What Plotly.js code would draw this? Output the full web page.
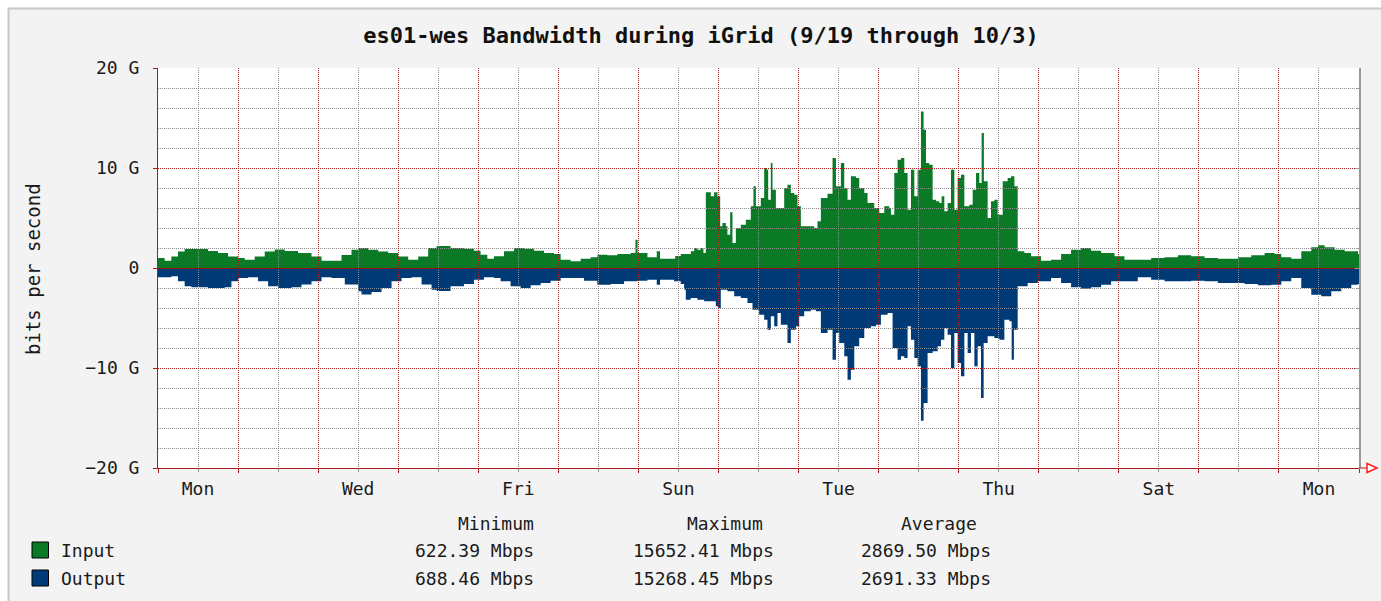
<!DOCTYPE html>
<html>
<head>
<meta charset="utf-8">
<script src="https://cdn.plot.ly/plotly-3.0.1.min.js"></script>
<style>
  html, body { margin: 0; padding: 0; background: #ffffff; }
  #chart { width: 1381px; height: 601px; }
</style>
</head>
<body>
<div id="chart"></div>
<script>
// ---------------- DATA (days since Mon 9/19, Gbps) ----------------
const dayLabels = ['Mon', 'Wed', 'Fri', 'Sun', 'Tue', 'Thu', 'Sat', 'Mon'];
const dayLabelPos = [0.5, 2.5, 4.5, 6.5, 8.5, 10.5, 12.5, 14.5];

const yTickVals = [-20, -10, 0, 10, 20];
const yTickText = ['\u221220 G', '\u221210 G', '0', '10 G', '20 G'];

const seriesNames = ['Input', 'Output'];
const statHeaders = ['Minimum', 'Maximum', 'Average'];
const inputStats = ['622.39 Mbps', '15652.41 Mbps', '2869.50 Mbps'];
const outputStats = ['688.46 Mbps', '15268.45 Mbps', '2691.33 Mbps'];

const inDay = [0, 0.083, 0.167, 0.25, 0.333, 0.5, 0.625, 0.75, 0.875, 1.0, 1.083, 1.208, 1.333, 1.458, 1.583, 1.75, 1.917,
  2.042, 2.167, 2.292, 2.417, 2.5, 2.625, 2.75, 2.875, 3.0, 3.125, 3.25, 3.375, 3.479, 3.654, 3.821, 3.946, 4.029, 4.113,
  4.196, 4.321, 4.446, 4.571, 4.696, 4.821, 4.946, 5.029, 5.154, 5.279, 5.404, 5.488, 5.613, 5.738, 5.904, 5.963, 5.99,
  6.113, 6.229, 6.27, 6.404, 6.46, 6.529, 6.654, 6.696, 6.737, 6.779, 6.812, 6.842, 6.904, 6.946, 6.987, 7.021, 7.05,
  7.092, 7.112, 7.146, 7.175, 7.217, 7.279, 7.342, 7.404, 7.437, 7.467, 7.529, 7.571, 7.604, 7.621, 7.654, 7.675, 7.717,
  7.779, 7.821, 7.862, 7.904, 7.946, 7.987, 8.029, 8.112, 8.196, 8.237, 8.279, 8.362, 8.425, 8.467, 8.529, 8.571, 8.612,
  8.654, 8.717, 8.758, 8.821, 8.862, 8.946, 9.008, 9.071, 9.133, 9.154, 9.196, 9.237, 9.279, 9.321, 9.362, 9.404, 9.446,
  9.487, 9.529, 9.562, 9.592, 9.633, 9.675, 9.717, 9.758, 9.787, 9.821, 9.862, 9.904, 9.946, 9.987, 10.029, 10.071,
  10.133, 10.175, 10.217, 10.258, 10.287, 10.315, 10.362, 10.404, 10.446, 10.487, 10.55, 10.612, 10.654, 10.696, 10.737,
  10.821, 10.904, 11.029, 11.154, 11.279, 11.404, 11.529, 11.654, 11.779, 11.862, 11.946, 12.071, 12.237, 12.404, 12.571,
  12.737, 12.904, 13.071, 13.237, 13.362, 13.487, 13.654, 13.821, 13.946, 14.029, 14.154, 14.279, 14.404, 14.487, 14.571,
  14.696, 14.821, 14.987, 15.0];
const inGbps = [1.0, 0.73, 1.16, 1.66, 1.9, 1.9, 1.7, 1.5, 1.16, 1.0, 0.83, 1.16, 1.66, 1.86, 1.7, 1.5, 1.16,
  0.73, 0.73, 1.3, 1.83, 2.0, 1.83, 1.66, 1.5, 1.16, 0.83, 1.16, 2.0, 2.2, 2.0, 1.93, 1.73, 1.33, 0.93,
  1.17, 1.67, 2.0, 1.93, 1.73, 1.5, 1.4, 0.83, 0.67, 0.93, 1.07, 1.33, 1.27, 1.4, 1.5, 2.83, 1.5,
  1.07, 1.67, 0.93, 0.93, 1.2, 1.4, 1.67, 2.0, 1.83, 2.0, 1.5, 7.57, 7.17, 7.57, 7.17, 4.17, 4.5,
  4.17, 3.33, 5.57, 2.5, 4.0, 4.33, 4.83, 6.17, 8.17, 6.17, 7.0, 10.0, 9.83, 6.83, 10.5, 7.83, 6.0,
  6.0, 8.0, 8.33, 7.5, 7.33, 6.17, 4.17, 4.17, 4.0, 4.67, 7.0, 7.43, 11.0, 8.17, 10.5, 8.0, 6.83,
  9.17, 9.0, 8.0, 7.5, 6.5, 6.0, 5.5, 6.17, 6.0, 5.33, 9.5, 10.83, 11.0, 9.5, 5.83, 9.83, 7.17,
  9.83, 15.65, 13.83, 10.5, 10.33, 6.83, 6.67, 6.5, 7.17, 5.67, 6.5, 9.83, 5.83, 9.0, 9.33, 6.17,
  6.33, 7.83, 9.5, 8.5, 13.5, 8.67, 5.0, 6.67, 6.83, 5.33, 8.67, 9.0, 9.17, 8.17, 1.67,
  1.5, 1.17, 0.73, 0.83, 1.4, 1.83, 2.0, 1.73, 1.5, 1.5, 1.17, 0.83, 0.83, 1.0, 1.07,
  1.27, 1.17, 1.0, 0.93, 0.93, 1.07, 1.27, 1.5, 1.4, 1.07, 0.93, 1.67, 2.07, 2.27, 2.07,
  1.83, 1.67, 1.4, 1.4];

const outDay = [0, 0.167, 0.25, 0.333, 0.417, 0.625, 0.833, 0.917, 1.0, 1.125, 1.25, 1.375, 1.5, 1.667, 1.792, 1.917,
  2.042, 2.167, 2.333, 2.5, 2.542, 2.667, 2.792, 2.917, 3.042, 3.167, 3.292, 3.417, 3.479, 3.654, 3.821, 3.946, 4.071,
  4.196, 4.279, 4.404, 4.529, 4.654, 4.779, 4.904, 5.029, 5.154, 5.321, 5.487, 5.654, 5.821, 5.987, 6.112, 6.229, 6.27,
  6.446, 6.529, 6.571, 6.592, 6.654, 6.737, 6.821, 6.904, 6.967, 6.996, 7.029, 7.112, 7.196, 7.279, 7.362, 7.425, 7.508,
  7.571, 7.612, 7.654, 7.696, 7.737, 7.779, 7.862, 7.904, 7.967, 8.008, 8.071, 8.154, 8.217, 8.279, 8.362, 8.425, 8.467,
  8.508, 8.571, 8.612, 8.654, 8.696, 8.758, 8.821, 8.904, 8.967, 9.029, 9.112, 9.175, 9.237, 9.279, 9.321, 9.362, 9.404,
  9.446, 9.487, 9.529, 9.562, 9.612, 9.675, 9.737, 9.779, 9.821, 9.862, 9.904, 9.946, 9.987, 10.029, 10.071, 10.112,
  10.154, 10.196, 10.237, 10.279, 10.312, 10.362, 10.446, 10.508, 10.571, 10.633, 10.662, 10.69, 10.737, 10.862, 10.987,
  11.154, 11.279, 11.404, 11.529, 11.654, 11.779, 11.904, 12.029, 12.237, 12.404, 12.571, 12.737, 12.904, 13.071, 13.237,
  13.404, 13.571, 13.737, 13.904, 14.029, 14.154, 14.279, 14.404, 14.529, 14.654, 14.779, 14.904, 14.987, 15.0];
const outGbps = [0.93, 0.83, 1.33, 1.83, 1.93, 2.0, 1.93, 1.33, 1.0, 0.93, 1.33, 1.83, 2.0, 1.93, 1.66, 1.33,
  0.93, 1.0, 1.66, 2.33, 2.66, 2.4, 2.0, 1.33, 1.0, 0.93, 1.66, 2.17, 2.3, 1.83, 1.6, 1.17, 0.93,
  1.0, 1.33, 1.83, 2.0, 1.73, 1.5, 1.27, 1.0, 1.0, 1.27, 1.67, 1.6, 1.33, 1.27, 1.17, 1.67, 1.17,
  1.33, 1.6, 2.17, 3.17, 3.0, 3.17, 3.33, 3.33, 3.83, 4.0, 2.17, 2.33, 2.83, 3.0, 3.5, 4.17, 4.67,
  5.17, 6.17, 4.83, 5.83, 4.5, 5.67, 7.5, 6.17, 5.83, 4.83, 4.33, 4.17, 4.33, 6.5, 6.17, 9.17, 6.5,
  7.5, 8.83, 11.17, 10.17, 7.83, 7.0, 6.0, 5.83, 5.67, 4.67, 4.5, 8.0, 9.17, 8.83, 9.0, 5.83, 7.17,
  9.0, 9.83, 15.27, 13.5, 8.5, 8.33, 7.83, 7.17, 6.0, 6.67, 10.0, 6.5, 9.5, 10.83, 6.5, 8.5,
  6.5, 9.83, 7.83, 13.0, 7.5, 6.83, 7.0, 7.17, 5.17, 5.33, 9.17, 6.17, 1.83, 1.5, 1.33,
  1.0, 1.5, 1.93, 2.07, 1.93, 1.67, 1.33, 1.33, 0.93, 1.17, 1.33, 1.33, 1.27, 1.33, 1.5,
  1.5, 1.6, 1.73, 1.67, 1.33, 1.0, 2.0, 2.67, 2.83, 2.33, 2.0, 1.67, 1.6, 1.6];

// ---------------- STYLE ----------------
const W = 1381, H = 601, ML = 158, MR = 22, MT = 68, MB = 133;
const PW = W - ML - MR, PH = H - MT - MB;
const px = x => (x - ML) / PW;          // pixel -> paper x
const py = y => (H - MB - y) / PH;      // pixel -> paper y

const GREEN = '#0a7a26';
const BLUE = '#003b78';
const RED = '#a81c1c';
const GRAYG = '#8c8c8c';
const MONO = 'DejaVu Sans Mono, Liberation Mono, monospace';
const TXT = '#1a1a1a';

const traces = [
  {
    x: inDay, y: inGbps, name: seriesNames[0], type: 'scatter', mode: 'lines',
    line: { shape: 'hv', width: 0, color: GREEN }, fill: 'tozeroy', fillcolor: GREEN,
    xaxis: 'x', yaxis: 'y', hoverinfo: 'skip', showlegend: false
  },
  {
    x: outDay, y: outGbps.map(v => -v), name: seriesNames[1], type: 'scatter', mode: 'lines',
    line: { shape: 'hv', width: 0, color: BLUE }, fill: 'tozeroy', fillcolor: BLUE,
    xaxis: 'x', yaxis: 'y', hoverinfo: 'skip', showlegend: false
  },
  // empty trace so the grid-only overlay subplot (drawn above the areas) exists
  { x: [], y: [], type: 'scatter', mode: 'lines', xaxis: 'x2', yaxis: 'y2', hoverinfo: 'skip', showlegend: false }
];

const tickFont = { family: MONO, size: 18, color: TXT };

const annotations = [
  { text: 'bits per second', textangle: -90, x: px(33), y: py(269), xref: 'paper', yref: 'paper',
    xanchor: 'center', yanchor: 'middle', showarrow: false, font: { family: MONO, size: 19, color: TXT } }
];
const legendTextY = [550, 578];
const legendColors = [GREEN, BLUE];
seriesNames.forEach((n, i) => {
  annotations.push({ text: n, x: px(59), y: py(legendTextY[i]), xref: 'paper', yref: 'paper',
    xanchor: 'left', yanchor: 'middle', showarrow: false, font: { family: MONO, size: 18, color: TXT } });
});
const headerRight = [536, 765, 979];
const valueRight = [536, 776, 993];
statHeaders.forEach((h, j) => {
  annotations.push({ text: h, x: px(headerRight[j]), y: py(523), xref: 'paper', yref: 'paper',
    xanchor: 'right', yanchor: 'middle', showarrow: false, font: { family: MONO, size: 18, color: TXT } });
  [inputStats, outputStats].forEach((arr, i) => {
    annotations.push({ text: arr[j], x: px(valueRight[j]), y: py(legendTextY[i]), xref: 'paper', yref: 'paper',
      xanchor: 'right', yanchor: 'middle', showarrow: false, font: { family: MONO, size: 18, color: TXT } });
  });
});

const shapes = [
  // white plot background, beneath the traces
  { type: 'rect', xref: 'paper', yref: 'paper', x0: 0, x1: 1, y0: 0, y1: 1, fillcolor: '#ffffff', line: { width: 0 }, layer: 'below' },
  // white outer strips and frame
  { type: 'rect', xref: 'paper', yref: 'paper', x0: px(0), x1: px(W), y0: py(0), y1: py(8), fillcolor: '#ffffff', line: { width: 0 }, layer: 'above' },
  { type: 'rect', xref: 'paper', yref: 'paper', x0: px(0), x1: px(8), y0: py(0), y1: py(H), fillcolor: '#ffffff', line: { width: 0 }, layer: 'above' },
  { type: 'line', xref: 'paper', yref: 'paper', x0: px(8), x1: px(W), y0: py(8.5), y1: py(8.5), line: { color: '#c8c8c8', width: 2 } },
  { type: 'line', xref: 'paper', yref: 'paper', x0: px(8.5), x1: px(8.5), y0: py(8), y1: py(H), line: { color: '#c8c8c8', width: 2 } },
  // x-axis arrow extension
  { type: 'line', xref: 'paper', yref: 'paper', x0: 1, x1: px(1368), y0: 0, y1: 0, line: { color: RED, width: 1 } },
  { type: 'path', xref: 'paper', yref: 'paper',
    path: `M ${px(1367)} ${py(463.5)} L ${px(1377)} ${py(468)} L ${px(1367)} ${py(472.5)} Z`,
    fillcolor: '#ffffff', line: { color: '#ff2020', width: 1.5 } }
];
legendColors.forEach((c, i) => {
  const yc = legendTextY[i];
  shapes.push({ type: 'rect', xref: 'paper', yref: 'paper', x0: px(32), x1: px(48.5), y0: py(yc - 8), y1: py(yc + 8),
    fillcolor: c, line: { color: '#000000', width: 1 } });
});

const layout = {
  width: W, height: H,
  margin: { l: ML, r: MR, t: MT, b: MB, pad: 0 },
  paper_bgcolor: '#f3f3f3',
  plot_bgcolor: 'rgba(0,0,0,0)',
  showlegend: false,
  title: {
    text: '<b>es01-wes Bandwidth during iGrid (9/19 through 10/3)</b>',
    x: 701 / W, xref: 'container', xanchor: 'center',
    y: 1 - 35 / H, yref: 'container', yanchor: 'middle',
    font: { family: MONO, size: 22, color: '#111111' }
  },
  xaxis: {
    domain: [0, 1], range: [0, 15], anchor: 'y',
    tickmode: 'array', tickvals: dayLabelPos, ticktext: dayLabels,
    showgrid: false, zeroline: false, showline: true, linecolor: RED, linewidth: 1,
    ticks: '', ticklabelstandoff: 4, tickfont: tickFont, fixedrange: true
  },
  yaxis: {
    domain: [0, 1], range: [-20, 20], anchor: 'x',
    tickmode: 'array', tickvals: yTickVals, ticktext: yTickText,
    showgrid: false, zeroline: false, showline: true, linecolor: RED, linewidth: 1,
    ticks: 'outside', ticklen: 4, tickcolor: RED, ticklabelstandoff: 10, tickfont: tickFont, fixedrange: true
  },
  xaxis2: {
    domain: [0, 1], range: [0, 15], anchor: 'y2',
    tickmode: 'linear', tick0: 0, dtick: 1, showticklabels: false,
    showgrid: true, gridcolor: RED, griddash: '1px,1px', gridwidth: 1,
    zeroline: false, showline: false,
    ticks: 'outside', ticklen: 4, tickcolor: RED,
    minor: { tickmode: 'linear', tick0: 0, dtick: 0.5, showgrid: true, gridcolor: GRAYG, griddash: '1px,1px', gridwidth: 1,
             ticks: 'outside', ticklen: 3, tickcolor: GRAYG },
    fixedrange: true
  },
  yaxis2: {
    domain: [0, 1], range: [-20, 20], anchor: 'x2', side: 'right',
    tickmode: 'linear', tick0: 0, dtick: 10, showticklabels: false,
    showgrid: true, gridcolor: RED, griddash: '1px,1px', gridwidth: 1,
    zeroline: false, showline: true, linecolor: '#999999', linewidth: 2,
    ticks: 'inside', ticklen: 4, tickcolor: '#999999',
    minor: { tickmode: 'linear', tick0: 0, dtick: 2, showgrid: true, gridcolor: GRAYG, griddash: '1px,1px', gridwidth: 1,
             ticks: 'inside', ticklen: 3, tickcolor: '#999999' },
    fixedrange: true
  },
  annotations: annotations,
  shapes: shapes
};

Plotly.newPlot('chart', traces, layout, { displayModeBar: false, staticPlot: true });
</script>
</body>
</html>
